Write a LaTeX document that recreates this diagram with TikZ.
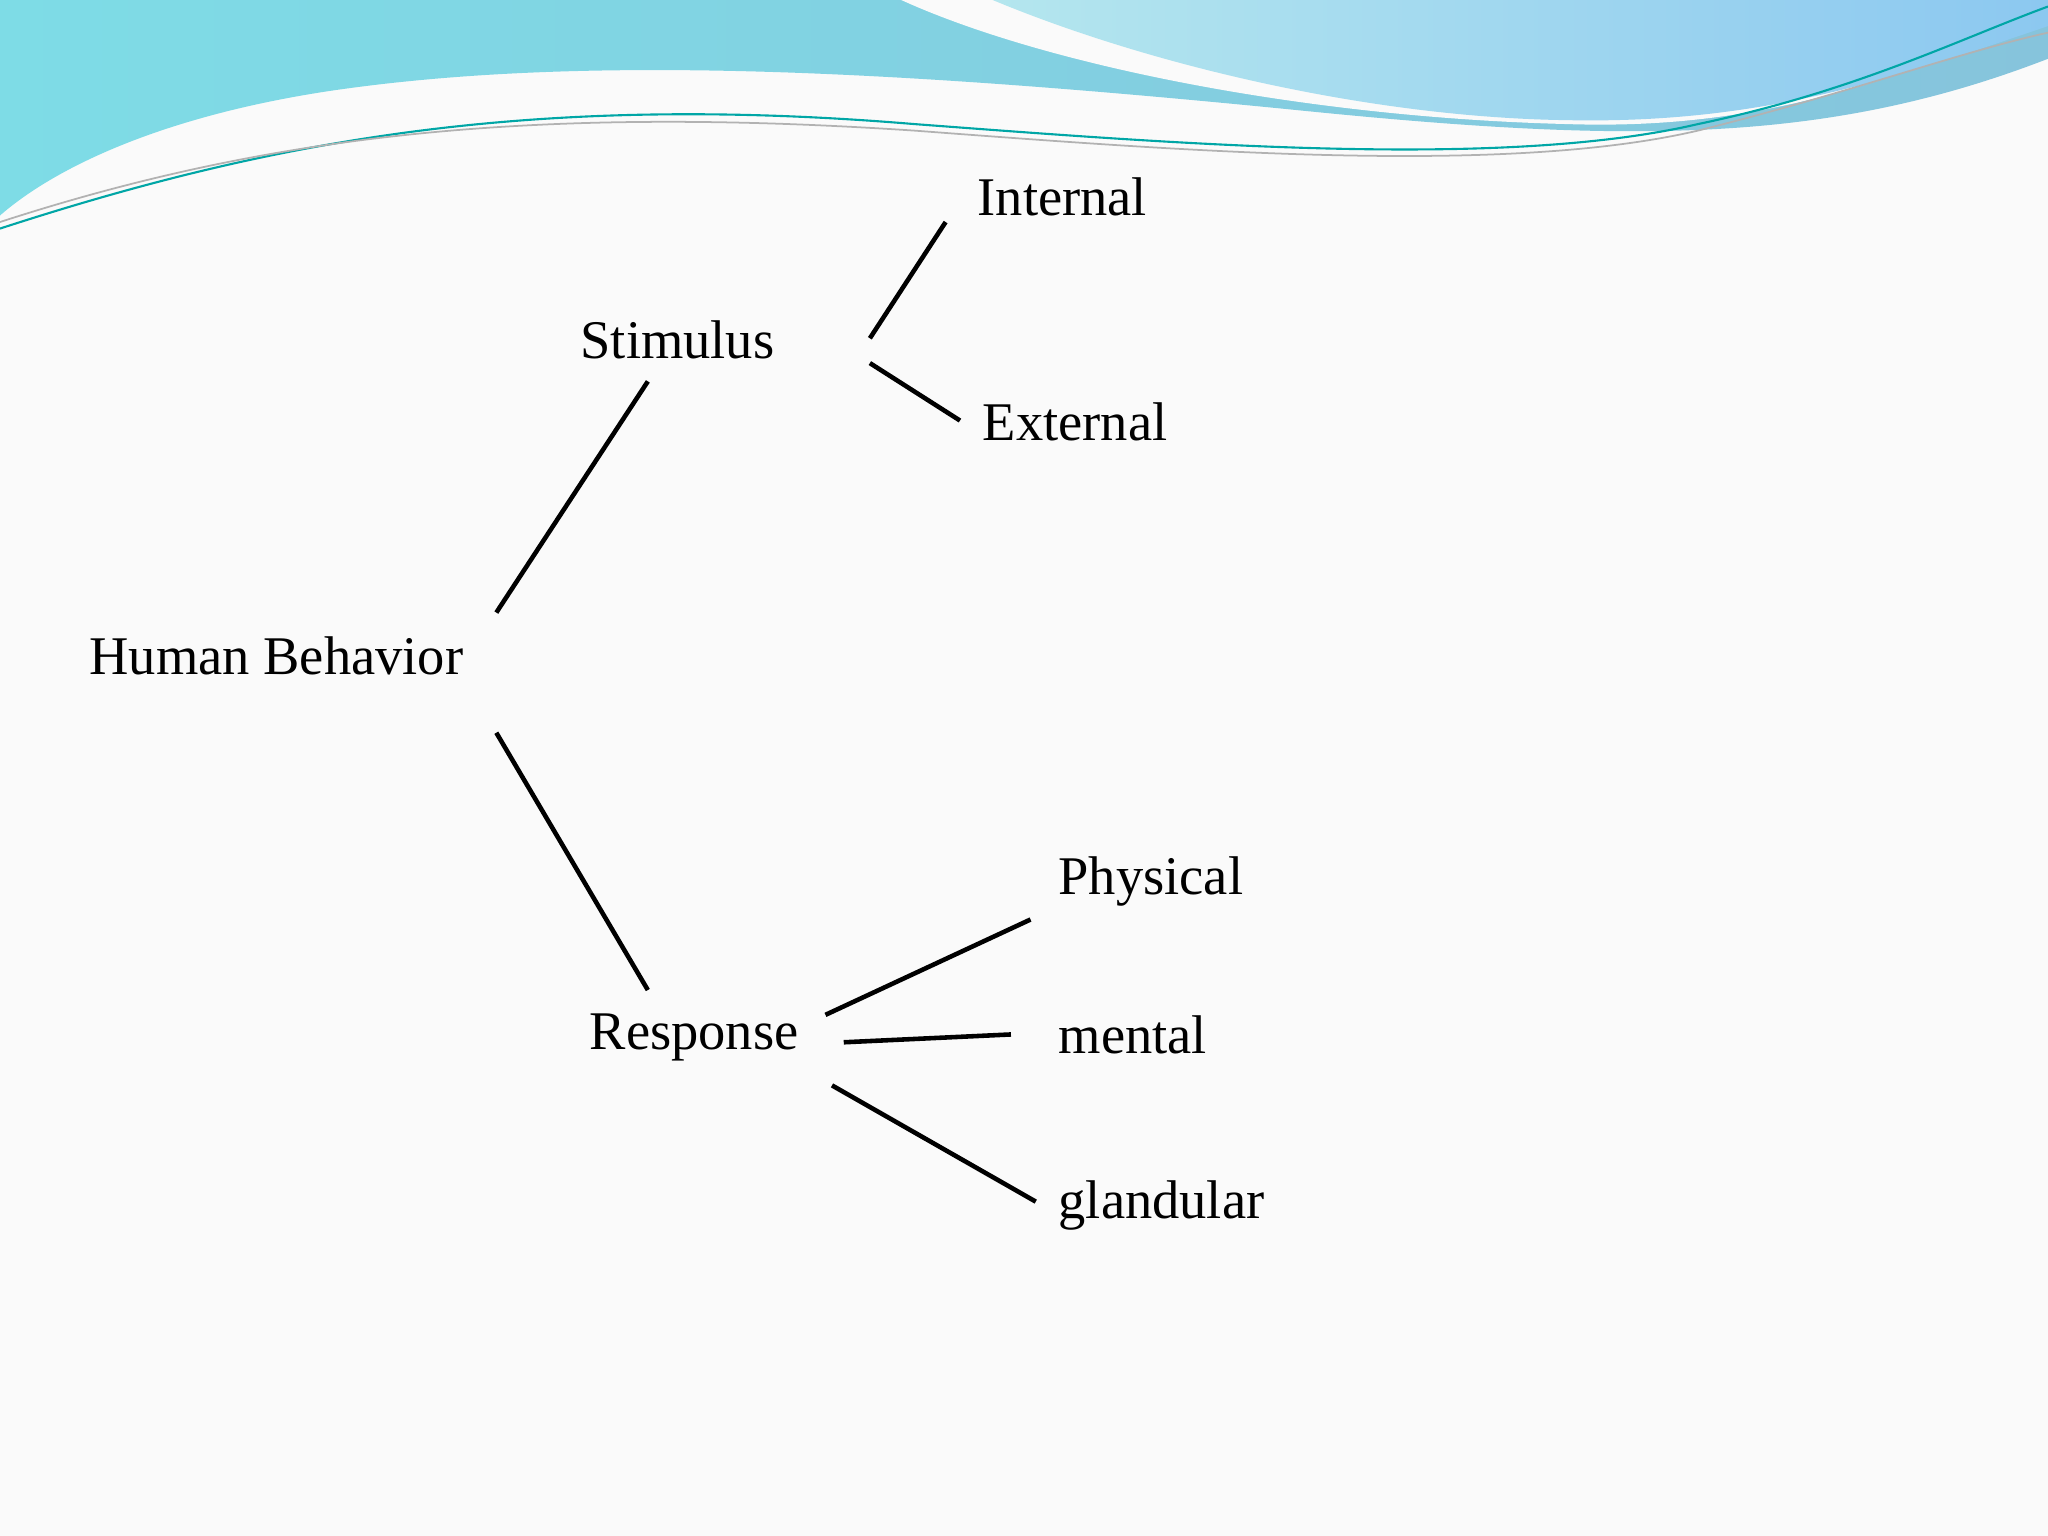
\documentclass[tikz,border=0pt]{standalone}
\usepackage{fontspec}
\setmainfont{Liberation Serif}
\definecolor{waveA}{HTML}{7EDCE6}
\definecolor{waveB}{HTML}{86C4DC}
\definecolor{waveC}{HTML}{B4E6EE}
\definecolor{waveD}{HTML}{8CC8F0}
\begin{document}
\begin{tikzpicture}[x=0.013061cm,y=-0.013061cm,
  lbl/.style={anchor=west,inner sep=0pt,font=\fontsize{15.5}{18}\selectfont},
  conn/.style={line width=1.3pt,black}]
\fill[white!96!gray] (0,0) rectangle (1568,1176);
\useasboundingbox (0,0) rectangle (1568,1176);
% top wave
\shade[left color=waveA,right color=waveB]
  (0,0) -- (1568,0) -- (1568,45) .. controls (1400,110) and (1250,110) .. (1000,85)
  .. controls (700,55) and (450,40) .. (250,70) .. controls (120,90) and (40,130) .. (0,165) -- cycle;
\fill[white!96!gray] (690,0) .. controls (800,50) and (1000,90) .. (1200,95)
  .. controls (1350,100) and (1450,60) .. (1568,15) -- (1568,0) -- cycle;
\shade[left color=waveC,right color=waveD]
  (760,0) .. controls (880,50) and (1050,90) .. (1200,92)
  .. controls (1350,95) and (1450,60) .. (1568,20) -- (1568,0) -- cycle;
\draw[teal!70!cyan,line width=0.6pt] (0,175) .. controls (200,110) and (400,70) .. (700,95)
  .. controls (900,110) and (1150,130) .. (1300,95) .. controls (1420,70) and (1500,30) .. (1568,5);
\draw[gray!60,line width=0.5pt] (0,170) .. controls (200,105) and (400,80) .. (700,100)
  .. controls (900,115) and (1150,135) .. (1300,100) .. controls (1420,70) and (1500,40) .. (1568,25);
% labels
\node[lbl] (hb) at (68,502) {Human Behavior};
\node[lbl] (st) at (444,260) {Stimulus};
\node[lbl] (re) at (451,794) {Response};
\node[lbl] (in) at (748,151) {Internal};
\node[lbl] (ex) at (752,323) {External};
\node[lbl] (ph) at (810,675) {Physical};
\node[lbl] (me) at (810,792) {mental};
\node[lbl] (gl) at (810,923) {glandular};
% connector ends
\coordinate (a1) at (380,469); \coordinate (a2) at (496,292);
\coordinate (b1) at (380,561); \coordinate (b2) at (496,758);
\coordinate (c1) at (666,259); \coordinate (c2) at (724,170);
\coordinate (d1) at (666,278); \coordinate (d2) at (735,322);
\coordinate (e1) at (632,777); \coordinate (e2) at (789,704);
\coordinate (f1) at (646,798); \coordinate (f2) at (774,792);
\coordinate (g1) at (637,831); \coordinate (g2) at (793,920);
\draw[conn] (a1) -- (a2);
\draw[conn] (b1) -- (b2);
\draw[conn] (c1) -- (c2);
\draw[conn] (d1) -- (d2);
\draw[conn] (e1) -- (e2);
\draw[conn] (f1) -- (f2);
\draw[conn] (g1) -- (g2);
\end{tikzpicture}
\end{document}
